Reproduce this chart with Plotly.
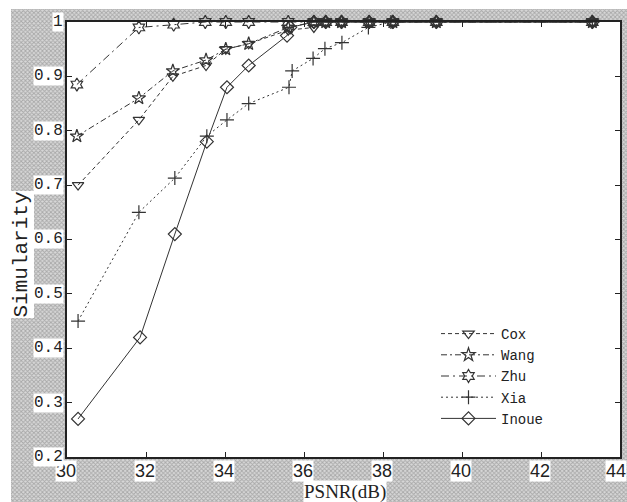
import plotly.graph_objects as go

# ---- data ----
cox_x = [30.28, 31.82, 32.68, 33.52, 34.02, 34.60, 35.60, 36.25, 36.55, 36.95, 37.65, 38.25, 39.35, 43.30]
cox_y = [0.70, 0.82, 0.90, 0.92, 0.95, 0.96, 0.985, 0.99, 1.0, 1.0, 1.0, 1.0, 1.0, 1.0]

wang_x = [30.25, 31.82, 32.68, 33.52, 34.02, 34.60, 35.60, 36.25, 36.55, 36.95, 37.65, 38.25, 39.35, 43.30]
wang_y = [0.79, 0.86, 0.91, 0.93, 0.95, 0.96, 0.99, 1.0, 1.0, 1.0, 1.0, 1.0, 1.0, 1.0]

zhu_x = [30.25, 31.82, 32.70, 33.50, 34.02, 34.60, 35.60, 36.25, 36.55, 36.95, 37.65, 38.25, 39.35, 43.30]
zhu_y = [0.885, 0.99, 0.995, 1.0, 1.0, 1.0, 1.0, 1.0, 1.0, 1.0, 1.0, 1.0, 1.0, 1.0]

xia_x = [30.28, 31.82, 32.73, 33.54, 34.05, 34.60, 35.62, 35.70, 36.23, 36.53, 36.96, 37.63, 38.20, 43.30]
xia_y = [0.45, 0.65, 0.713, 0.79, 0.82, 0.85, 0.88, 0.91, 0.933, 0.951, 0.962, 0.99, 1.0, 1.0]

inoue_x = [30.28, 31.85, 32.73, 33.54, 34.05, 34.60, 35.57, 35.65, 36.25, 36.55, 36.95, 37.65, 38.25, 39.35, 43.30]
inoue_y = [0.27, 0.42, 0.61, 0.78, 0.88, 0.92, 0.975, 0.99, 1.0, 1.0, 1.0, 1.0, 1.0, 1.0, 1.0]

x_ticks = [30, 32, 34, 36, 38, 40, 42, 44]
x_ticklabels = ["30", "32", "34", "36", "38", "40", "42", "44"]
y_ticks = [0.2, 0.3, 0.4, 0.5, 0.6, 0.7, 0.8, 0.9, 1.0]
y_ticklabels = ["0.2", "0.3", "0.4", "0.5", "0.6", "0.7", "0.8", "0.9", "1"]

series_names = ["Cox", "Wang", "Zhu", "Xia", "Inoue"]

# ---- layout geometry ----
W, H = 627, 502
L, R, T, B = 67, 620, 22, 457
xd = [L / W, R / W]
yd = [(H - B) / H, (H - T) / H]

fig = go.Figure()

# hatched background frame (full-paper helper axes), hole over plot area
ox0, ox1, oy0, oy1 = 11 / W, 1.0, 0.0, 1 - 9 / H
fx = [ox0, ox1, ox1, ox0, ox0, xd[0], xd[0], xd[1], xd[1], xd[0], ox0]
fy = [oy0, oy0, oy1, oy1, oy0, yd[0], yd[1], yd[1], yd[0], yd[0], oy0]
fig.add_trace(go.Scatter(
    x=fx, y=fy, mode="none", fill="toself", fillcolor="#d0d0d0",
    fillpattern=dict(shape="x", size=3, solidity=0.5, fgcolor="#787878", bgcolor="#d8d8d8"),
    hoverinfo="skip", showlegend=False, xaxis="x", yaxis="y"))

styles = [
    (cox_x, cox_y, "triangle-down-open", "4px,3px", 10),
    (wang_x, wang_y, "star-open", "6px,3px,2px,3px", 10),
    (zhu_x, zhu_y, "hexagram-open", "8px,4px,2px,4px", 10),
    (xia_x, xia_y, "cross-thin-open", "2px,3px", 10),
    (inoue_x, inoue_y, "diamond-open", "solid", 10),
]
for name, (xs, ys, sym, dash, size) in zip(series_names, styles):
    fig.add_trace(go.Scatter(
        x=xs, y=ys, name=name, mode="lines+markers",
        line=dict(color="#333333", width=1, dash=dash),
        marker=dict(symbol=sym, size=size, color="#333333", line=dict(width=1.2, color="#333333")),
        cliponaxis=False, xaxis="x2", yaxis="y2"))

annotations = []
for i, (v, t) in enumerate(zip(x_ticks, x_ticklabels)):
    last = i == len(x_ticks) - 1
    annotations.append(dict(x=v, xref="x2", y=yd[0], yref="paper", yanchor="top", yshift=-3,
                            xanchor="right" if last else "center", xshift=7 if last else -1,
                            text=t, showarrow=False, bgcolor="white", borderpad=0,
                            font=dict(family="Liberation Sans", size=18, color="#222")))
for v, t in zip(y_ticks, y_ticklabels):
    annotations.append(dict(x=xd[0], xref="paper", xanchor="right", xshift=-3, y=v, yref="y2",
                            text=t, showarrow=False, bgcolor="white", borderpad=0,
                            font=dict(family="Liberation Mono", size=16, color="#222")))
annotations.append(dict(x=345 / W, xref="paper", y=0, yref="paper", yanchor="bottom", yshift=-2,
                        text="PSNR(dB)", showarrow=False, bgcolor="white", borderpad=0,
                        font=dict(family="Liberation Serif", size=19, color="#222")))
annotations.append(dict(x=9 / W, xref="paper", xanchor="left", y=0.492, yref="paper",
                        text="Simularity", textangle=-90, showarrow=False, bgcolor="white", borderpad=0,
                        font=dict(family="Liberation Mono", size=21, color="#222")))

axis_common = dict(showgrid=False, zeroline=False, showline=True, linecolor="#222", linewidth=1.5,
                   mirror="ticks", ticks="inside", ticklen=5, tickcolor="#222", showticklabels=False)

fig.update_layout(
    width=W, height=H, margin=dict(l=0, r=0, t=0, b=0),
    paper_bgcolor="white", plot_bgcolor="white",
    xaxis=dict(domain=[0, 1], range=[0, 1], visible=False, fixedrange=True),
    yaxis=dict(domain=[0, 1], range=[0, 1], visible=False, fixedrange=True),
    xaxis2=dict(domain=xd, range=[30, 44], anchor="y2", tickvals=x_ticks, **axis_common),
    yaxis2=dict(domain=yd, range=[0.2, 1.0], anchor="x2", tickvals=y_ticks, **axis_common),
    legend=dict(x=436 / W, y=(H - 318) / H, xanchor="left", yanchor="top",
                bgcolor="rgba(0,0,0,0)", font=dict(family="Liberation Mono", size=14, color="#222"),
                itemwidth=55, tracegroupgap=0),
    annotations=annotations,
    showlegend=True,
)

fig.write_html("out.html", config={"displayModeBar": False},
               post_script="document.body.style.margin='0px';document.body.style.overflow='hidden';")
